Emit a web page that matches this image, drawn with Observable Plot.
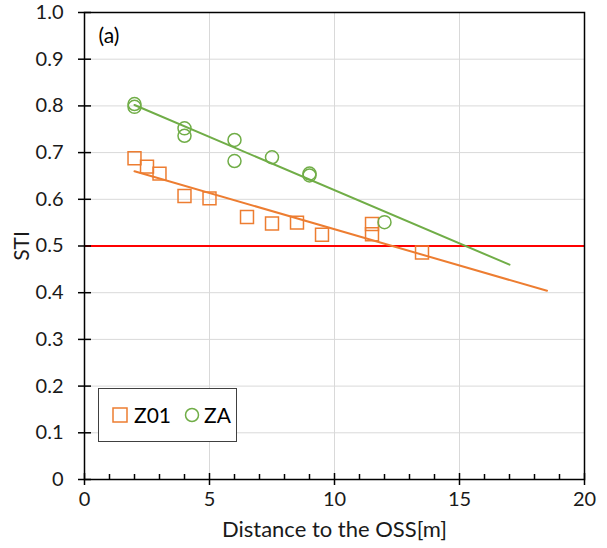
<!DOCTYPE html>
<html><head><meta charset="utf-8">
<script src="https://cdn.jsdelivr.net/npm/d3@7"></script>
<script src="https://cdn.jsdelivr.net/npm/@observablehq/plot@0.6"></script>
<style>
body{margin:0;background:#fff;font-family:Lato,sans-serif;}
#wrap{position:relative;width:607px;height:548px;}
#legend{position:absolute;left:98px;top:388px;width:139px;height:54px;border:1px solid #404040;background:#fff;box-sizing:border-box;}
</style></head>
<body><div id="wrap"></div>
<script>
const seriesNames = ["Z01", "ZA"];
const colors = ["#ED7D31", "#70AD47"];
const z01X = [2, 2.5, 3, 4, 5, 6.5, 7.5, 8.5, 9.5, 11.5, 11.5, 13.5];
const z01Y = [0.688, 0.670, 0.655, 0.607, 0.602, 0.562, 0.548, 0.550, 0.524, 0.547, 0.525, 0.486];
const zaX = [2, 2, 4, 4, 6, 6, 7.5, 9, 9, 12];
const zaY = [0.804, 0.798, 0.752, 0.736, 0.727, 0.682, 0.690, 0.655, 0.651, 0.551];
const trendZ01X = [2, 18.5];
const trendZ01Y = [0.660, 0.404];
const trendZAX = [2, 17];
const trendZAY = [0.802, 0.460];
const threshold = 0.5;
const xTicks = [0, 5, 10, 15, 20];
const xMinor = [1,2,3,4,6,7,8,9,11,12,13,14,16,17,18,19];
const yTicks = [0, 0.1, 0.2, 0.3, 0.4, 0.5, 0.6, 0.7, 0.8, 0.9, 1.0];
const yTickLabels = ["0","0.1","0.2","0.3","0.4","0.5","0.6","0.7","0.8","0.9","1.0"];

const z01 = z01X.map((x, i) => ({x, y: z01Y[i]}));
const za = zaX.map((x, i) => ({x, y: zaY[i]}));
const tZ01 = trendZ01X.map((x, i) => ({x, y: trendZ01Y[i]}));
const tZA = trendZAX.map((x, i) => ({x, y: trendZAY[i]}));

const chart = Plot.plot({
  width: 607, height: 548,
  marginLeft: 84, marginRight: 23, marginTop: 12, marginBottom: 69,
  x: {domain: [0, 20]},
  y: {domain: [0, 1]},
  style: {fontFamily: "Lato, sans-serif", fontSize: "20px", color: "#1a1a1a", background: "white"},
  marks: [
    Plot.gridX([5, 10, 15], {stroke: "#d9d9d9", strokeOpacity: 1}),
    Plot.gridY(yTicks.slice(1, -1), {stroke: "#d9d9d9", strokeOpacity: 1}),
    Plot.ruleY([threshold], {stroke: "#ff0000", strokeWidth: 2}),
    Plot.line(tZ01, {x: "x", y: "y", stroke: colors[0], strokeWidth: 2}),
    Plot.line(tZA, {x: "x", y: "y", stroke: colors[1], strokeWidth: 2}),
    Plot.dot(z01, {x: "x", y: "y", symbol: "square", r: 7.3, stroke: colors[0], strokeWidth: 1.5, fill: "none"}),
    Plot.dot(za, {x: "x", y: "y", symbol: "circle", r: 6.5, stroke: colors[1], strokeWidth: 1.5, fill: "none"}),
    Plot.frame({stroke: "#000", strokeWidth: 1.5}),
    Plot.ruleY(yTicks, {y: d => d, x1: 0, x2: 0, insetLeft: -6, insetRight: -7, stroke: "#000", strokeWidth: 1.5}),
    Plot.ruleX(xTicks, {x: d => d, y1: 0, y2: 0, insetTop: -6, insetBottom: -6, stroke: "#000", strokeWidth: 1.5}),
    Plot.ruleX(xMinor, {x: d => d, y1: 0, y2: 0, insetTop: -5, insetBottom: 0, stroke: "#000", strokeWidth: 1.5}),
    Plot.axisX({ticks: xTicks, tickSize: 0, tickPadding: 12, label: null, fontSize: 20}),
    Plot.axisX({ticks: [], tickSize: 0, label: "Distance to the OSS[m]", labelAnchor: "center", labelOffset: 57, labelArrow: "none", fontSize: 22}),
    Plot.axisY({ticks: yTicks, tickFormat: d => yTickLabels[yTicks.indexOf(d)], tickSize: 0, tickPadding: 21, label: null, fontSize: 20}),
    Plot.axisY({ticks: [], tickSize: 0, label: "STI", labelAnchor: "center", labelOffset: 70, labelArrow: "none", fontSize: 21}),
    Plot.text(["(a)"], {frameAnchor: "top-left", dx: 14, dy: 16, text: d => d, fontSize: 21, fill: "#000", textAnchor: "start"})
  ]
});
const wrap = document.getElementById("wrap");
wrap.appendChild(chart);

const legend = document.createElement("div");
legend.id = "legend";
legend.innerHTML = `<svg width="137" height="52" style="font-family:Lato,sans-serif;font-size:21px;display:block">
  <rect x="14" y="19" width="14" height="14" fill="none" stroke="${colors[0]}" stroke-width="1.5"/>
  <text x="35" y="33.5" fill="#000">${seriesNames[0]}</text>
  <circle cx="93" cy="26" r="6.5" fill="none" stroke="${colors[1]}" stroke-width="1.5"/>
  <text x="105" y="33.5" fill="#000">${seriesNames[1]}</text>
</svg>`;
wrap.appendChild(legend);
</script>
</body></html>
